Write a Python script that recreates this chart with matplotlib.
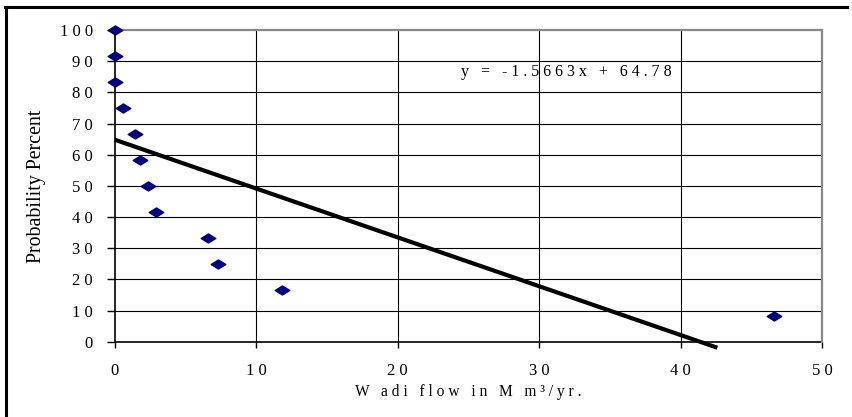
import matplotlib
matplotlib.use("Agg")
import matplotlib.pyplot as plt
from matplotlib.path import Path
from matplotlib.lines import Line2D

# Annual wadi flow (Mm3/yr) against exceedance probability (%)
flow = [0.0, 0.0, 0.0, 0.6, 1.4, 1.8, 2.3, 2.9, 6.6, 7.3, 11.8, 46.6]
probability = [100, 91.7, 83.3, 75, 66.7, 58.3, 50, 41.7, 33.3, 25, 16.7, 8.3]

# Linear trend fitted to the points
slope = -1.5663
intercept = 64.78
trend_x = [0.0, 42.6]
equation = "y = -1.5663x + 64.78"

x_ticks = [0, 10, 20, 30, 40, 50]
y_ticks = [0, 10, 20, 30, 40, 50, 60, 70, 80, 90, 100]

FONT = "Liberation Serif"


def tracked(s):
    # wide letter spacing, as in the printed figure
    return " ".join(s)


fig = plt.figure(figsize=(8.53, 4.17), dpi=100)
ax = fig.add_axes([0.1348, 0.1806, 0.8289, 0.7474])

# gridlines
for xv in x_ticks[1:-1]:
    ax.axvline(xv, color="black", lw=0.8, zorder=1)
for yv in y_ticks[1:-1]:
    ax.axhline(yv, color="black", lw=0.8, zorder=1)

# scatter points as flat navy diamonds
diamond = Path([(-1, 0), (0, 0.62), (1, 0), (0, -0.62), (-1, 0)],
               [Path.MOVETO, Path.LINETO, Path.LINETO, Path.LINETO, Path.CLOSEPOLY])
ax.plot(flow, probability, linestyle="none", marker=diamond, markersize=10.5,
        color="#000080", zorder=4, clip_on=False)

# trend line
trend_y = [slope * v + intercept for v in trend_x]
ax.plot(trend_x, trend_y, color="black", lw=3.0, zorder=3, clip_on=False,
        solid_capstyle="butt")

ax.text(31.9, 86.5, tracked(equation), fontfamily=FONT, fontsize=11.5,
        ha="center", va="center")

ax.set_xlim(0, 50)
ax.set_ylim(0, 100)
ax.set_xticks(x_ticks)
ax.set_yticks(y_ticks)
ax.set_xticklabels([tracked(str(v)) for v in x_ticks], fontfamily=FONT, fontsize=12)
ax.set_yticklabels([tracked(str(v)) for v in y_ticks], fontfamily=FONT, fontsize=12)
ax.tick_params(axis="y", direction="out", length=6, width=1.0, pad=10, color="black")
ax.tick_params(axis="x", direction="out", length=4, width=1.0, pad=11, color="black")

for side in ("left", "bottom"):
    ax.spines[side].set_color("black")
    ax.spines[side].set_linewidth(1.2)
    ax.spines[side].set_zorder(2)
for side in ("top", "right"):
    ax.spines[side].set_color("#888888")
    ax.spines[side].set_linewidth(1.6)

ax.set_ylabel("Probability Percent", fontfamily=FONT, fontsize=14.3, labelpad=10)
ax.set_xlabel(tracked("W adi flow in M m\u00b3/yr."), fontfamily=FONT, fontsize=11.2,
              labelpad=4)

# outer chart frame
fig.add_artist(Line2D([6.5 / 853, 6.5 / 853], [0, 1 - 6.5 / 417], color="black",
                      lw=2.2, transform=fig.transFigure))
fig.add_artist(Line2D([5.5 / 853, 847 / 853], [1 - 6.5 / 417, 1 - 6.5 / 417],
                      color="black", lw=2.2, transform=fig.transFigure))

fig.savefig("out.png", dpi=100)
